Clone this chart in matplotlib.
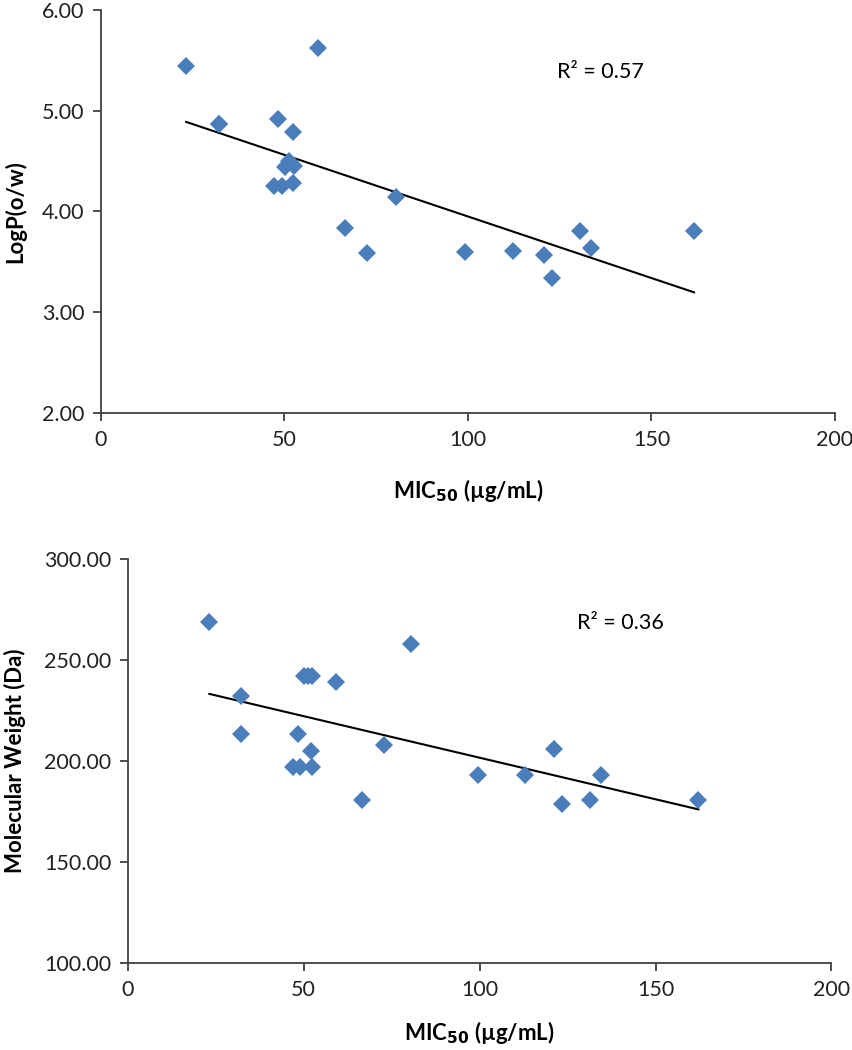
import numpy as np
import matplotlib
matplotlib.use("Agg")
import matplotlib.pyplot as plt

# MIC50 values (ug/mL) and properties
mic_logp = [23.2, 32.2, 32.2, 47.1, 48.3, 49.2, 50.2, 51.3, 52.2, 52.4, 52.6,
            59.1, 66.5, 72.6, 80.3, 99.1, 112.4, 120.6, 122.8, 130.6, 133.6, 161.6]
logp = [5.44, 4.87, 4.87, 4.25, 4.92, 4.25, 4.44, 4.50, 4.79, 4.28, 4.45,
        5.62, 3.84, 3.59, 4.14, 3.60, 3.61, 3.57, 3.34, 3.81, 3.64, 3.81]

mic_mw = [23.2, 32.1, 32.1, 47.1, 48.3, 49.0, 50.2, 51.3, 52.2, 52.4, 52.5,
          59.3, 66.7, 72.7, 80.6, 99.6, 113.0, 121.1, 123.4, 131.3, 134.4, 162.2]
mw = [268.9, 232.1, 213.1, 197.2, 213.1, 197.2, 241.9, 241.9, 204.8, 241.9, 197.2,
      239.0, 180.8, 207.7, 257.9, 192.9, 192.9, 205.8, 178.8, 180.8, 192.9, 180.8]

r2_labels = ["R² = 0.57", "R² = 0.36"]
MARKER_COLOR = "#4A7EBB"
AXIS_COLOR = "#404040"
FONT = ["Lato", "DejaVu Sans"]

plt.rcParams["font.family"] = FONT


def style_axes(ax):
    for side in ("top", "right"):
        ax.spines[side].set_visible(False)
    for side in ("left", "bottom"):
        ax.spines[side].set_color(AXIS_COLOR)
        ax.spines[side].set_linewidth(1.3)
    ax.tick_params(direction="out", length=6, width=1.3, color=AXIS_COLOR,
                   labelsize=15.5, labelcolor="#222222", pad=6)


def panel(ax, x, y, ylim, yticks, ylabel, r2, r2_pos):
    x = np.asarray(x)
    y = np.asarray(y)
    ax.plot(x, y, "D", color=MARKER_COLOR, markersize=9.5,
            markeredgewidth=0, zorder=3)
    k, b = np.polyfit(x, y, 1)
    xs = np.array([x.min(), x.max()])
    ax.plot(xs, k * xs + b, color="black", linewidth=1.5, zorder=2)
    ax.set_xlim(0, 200)
    ax.set_ylim(*ylim)
    ax.set_xticks([0, 50, 100, 150, 200])
    ax.set_yticks(yticks)
    ax.set_yticklabels([f"{t:.2f}" for t in yticks])
    ax.set_xlabel(r"MIC$_{\mathbf{50}}$ (µg/mL)", fontsize=16,
                  fontweight="bold")
    ax.set_ylabel(ylabel, fontsize=16, fontweight="bold")
    ax.text(r2_pos[0], r2_pos[1], r2, fontsize=15.5, ha="center", va="center")
    style_axes(ax)


fig = plt.figure(figsize=(8.52, 10.5), dpi=100)
ax1 = fig.add_axes([0.1185, 0.6067, 0.8615, 0.3838])
ax2 = fig.add_axes([0.1499, 0.0826, 0.826, 0.3853])

panel(ax1, mic_logp, logp, (2, 6), [2, 3, 4, 5, 6], "LogP(o/w)",
      r2_labels[0], (136, 5.38))
panel(ax2, mic_mw, mw, (100, 300), [100, 150, 200, 250, 300],
      "Molecular Weight (Da)", r2_labels[1], (140, 268))

ax1.yaxis.set_label_coords(-0.102, 0.5)
ax2.yaxis.set_label_coords(-0.145, 0.5)
ax1.xaxis.set_label_coords(0.5, -0.158)
ax2.xaxis.set_label_coords(0.5, -0.138)

fig.savefig("out.png", dpi=100)
